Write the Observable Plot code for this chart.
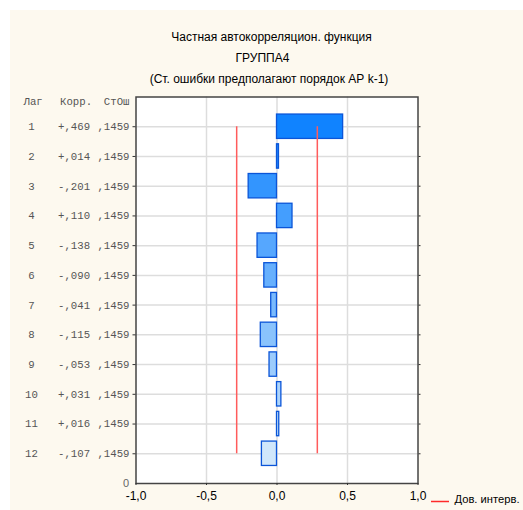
<!DOCTYPE html>
<html><head><meta charset="utf-8">
<script src="https://cdn.jsdelivr.net/npm/d3@7"></script>
<script src="https://cdn.jsdelivr.net/npm/@observablehq/plot@0.6"></script>
<style>
body{margin:0;background:#fff;}
#wrap{position:relative;width:523px;height:510px;overflow:hidden;}
#bg{position:absolute;left:10px;top:10px;right:0;bottom:0;background:#fdf9ef;}
#chart{position:absolute;left:0;top:0;}
</style></head><body>
<div id="wrap"><div id="bg"></div><div id="chart"></div></div>
<script>
const lags = [1, 2, 3, 4, 5, 6, 7, 8, 9, 10, 11, 12];
const corr = [0.469, 0.014, -0.201, 0.110, -0.138, -0.090, -0.041, -0.115, -0.053, 0.031, 0.016, -0.107];
const stderr = [0.1459, 0.1459, 0.1459, 0.1459, 0.1459, 0.1459, 0.1459, 0.1459, 0.1459, 0.1459, 0.1459, 0.1459];
const titleLines = ["Частная автокорреляцион. функция", "ГРУППА4", "(Ст. ошибки предполагают порядок АР k-1)"];
const header = ["Лаг", "Корр.", "СтОш"];
const xTicks = [-1, -0.5, 0, 0.5, 1];
const xTickLabels = ["-1,0", "-0,5", "0,0", "0,5", "1,0"];
const xGrid = [-0.5, 0, 0.5];
const yBottomLabel = "0";
const legendLabel = "Дов. интерв.";

const data = lags.map((lag, i) => ({lag, corr: corr[i], se: stderr[i]}));
const fmtCorr = v => (v < 0 ? "-" : "+") + "," + String(Math.round(Math.abs(v) * 1000)).padStart(3, "0");
const fmtSe = v => "," + String(Math.round(v * 10000)).padStart(4, "0");
const ci = 1.96 * stderr[0];
const confLimits = [-ci, ci];
const col = d3.interpolateRgb("#1083ff", "#d0e7fb");
const fillFor = d => col((d.lag - 1) / 11);

const ML = 135.5, MT = 96.5;
const mono = "'Liberation Mono', 'Courier New', monospace";
const sans = "'Liberation Sans', Arial, sans-serif";

const plot = Plot.plot({
  width: 523, height: 510,
  marginLeft: ML, marginRight: 105.5, marginTop: MT, marginBottom: 27,
  style: {background: "transparent", fontFamily: sans, fontSize: "12px", overflow: "visible"},
  x: {domain: [-1, 1], label: null},
  y: {domain: [0, 13], reverse: true, label: null},
  marks: [
    Plot.frame({fill: "white", stroke: null}),
    Plot.ruleY(lags, {stroke: "#dddddd", strokeWidth: 1.5}),
    Plot.ruleX(xGrid, {stroke: "#dddddd", strokeWidth: 1.5}),
    Plot.rect(data, {x1: d => 0, x2: d => d.corr, y1: d => d.lag - 0.41, y2: d => d.lag + 0.41,
      fill: fillFor, stroke: "#0b55d8", strokeWidth: 1.3}),
    Plot.ruleX(confLimits, {y1: d => lags[0], y2: d => lags[lags.length - 1], stroke: "#ff5c5c", strokeWidth: 1.5}),
    Plot.frame({stroke: "#444", strokeWidth: 1.5}),
    Plot.axisY(lags, {anchor: "left", tickSize: 3, tickFormat: () => "", stroke: "#333", label: null}),
    Plot.axisY(lags, {anchor: "right", tickSize: 2, tickFormat: () => "", stroke: "#333", label: null}),
    Plot.axisX(xTicks, {anchor: "bottom", tickSize: 2, tickPadding: 6, stroke: "#333", label: null,
      tickFormat: (d, i) => xTickLabels[i], fill: "black", fontSize: 12, fontFamily: sans}),
    Plot.text([yBottomLabel], {y: d => 13, frameAnchor: "left", dx: -7, textAnchor: "end",
      fill: "#666", fontSize: 11, fontFamily: sans}),
    // left table columns
    Plot.text(data, {y: "lag", text: d => String(d.lag), frameAnchor: "left", dx: 31 - ML, textAnchor: "middle",
      fill: "#555", fontFamily: mono, fontSize: 10.7}),
    Plot.text(data, {y: "lag", text: d => fmtCorr(d.corr), frameAnchor: "left", dx: 57.5 - ML, textAnchor: "start",
      fill: "#555", fontFamily: mono, fontSize: 10.7}),
    Plot.text(data, {y: "lag", text: d => fmtSe(d.se), frameAnchor: "left", dx: 129 - ML, textAnchor: "end",
      fill: "#555", fontFamily: mono, fontSize: 10.7}),
    Plot.text([header[0]], {frameAnchor: "top-left", dx: 23 - ML, dy: 0.5, textAnchor: "start",
      fill: "#555", fontFamily: mono, fontSize: 10.7}),
    Plot.text([header[1]], {frameAnchor: "top-left", dx: 59.5 - ML, dy: 0.5, textAnchor: "start",
      fill: "#555", fontFamily: mono, fontSize: 10.7}),
    Plot.text([header[2]], {frameAnchor: "top-left", dx: 129 - ML, dy: 0.5, textAnchor: "end",
      fill: "#555", fontFamily: mono, fontSize: 10.7}),
    // titles
    Plot.text([titleLines[0]], {frameAnchor: "top-left", dx: 271 - ML, dy: 32 - MT, textAnchor: "middle",
      fill: "black", fontFamily: sans, fontSize: 12}),
    Plot.text([titleLines[1]], {frameAnchor: "top-left", dx: 262 - ML, dy: 53 - MT, textAnchor: "middle",
      fill: "black", fontFamily: sans, fontSize: 12}),
    Plot.text([titleLines[2]], {frameAnchor: "top-left", dx: 268.5 - ML, dy: 73.5 - MT, textAnchor: "middle",
      fill: "black", fontFamily: sans, fontSize: 12}),
    // legend label
    Plot.text([legendLabel], {frameAnchor: "bottom-right", dx: 454 - 417.5, dy: 502 - 483, textAnchor: "start",
      fill: "black", fontFamily: sans, fontSize: 11.2})
  ]
});

// legend swatch line
d3.select(plot).append("line")
  .attr("x1", 431).attr("x2", 449).attr("y1", 501.5).attr("y2", 501.5)
  .attr("stroke", "#ff2a2a").attr("stroke-width", 1.5);

document.getElementById("chart").appendChild(plot);
</script>
</body></html>
